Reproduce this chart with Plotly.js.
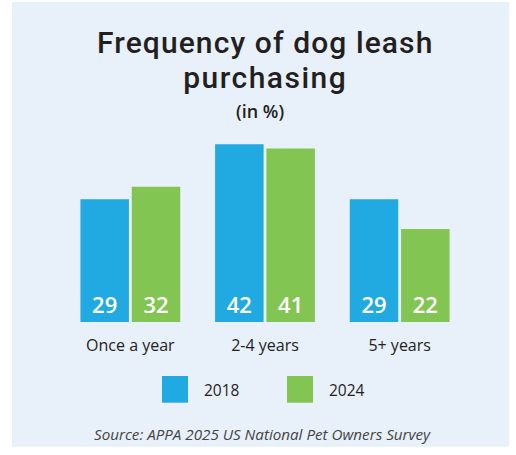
<!DOCTYPE html>
<html>
<head>
<meta charset="utf-8">
<script src="https://cdn.plot.ly/plotly-3.0.1.min.js"></script>
<style>html,body{margin:0;padding:0;background:#fff;}#chart{width:516px;height:455px;}</style>
</head>
<body>
<div id="chart"></div>
<script>
var categories = ['Once a year', '2-4 years', '5+ years'];
var seriesNames = ['2018', '2024'];
var values2018 = [29, 42, 29];
var values2024 = [32, 41, 22];
var seriesColors = ['#21A9E1', '#82C552'];
var titleLine1 = 'Frequency of dog leash';
var titleLine2 = 'purchasing';
var subtitle = '(in %)';
var sourceText = 'Source: APPA 2025 US National Pet Owners Survey';

var W = 516, H = 455;
var M = {l: 63, r: 49, t: 140, b: 133};
var PW = W - M.l - M.r, PH = H - M.t - M.b;
function px(X) { return (X - M.l) / PW; }
function py(Y) { return (H - M.b - Y) / PH; }

var seriesValues = [values2018, values2024];
var traces = seriesNames.map(function (name, i) {
  return {
    type: 'bar',
    name: name,
    x: categories,
    y: seriesValues[i],
    text: seriesValues[i].map(String),
    textposition: 'inside',
    insidetextanchor: 'start',
    textangle: 0,
    textfont: {family: 'Open Sans', size: 22, color: '#ffffff', weight: 600},
    marker: {color: seriesColors[i], line: {width: 0}},
    hoverinfo: 'none',
    cliponaxis: false
  };
});

var shapes = [{
  type: 'rect', xref: 'paper', yref: 'paper', layer: 'below',
  x0: px(12), x1: px(509), y0: py(446.7), y1: py(2),
  fillcolor: '#E8F0FA', line: {width: 0}
}];
var titleSpan = function (s, ls) { return '<span style="font-size:30px;letter-spacing:' + ls + 'px">' + s + '</span>'; };
var annotations = [
  {text: titleSpan(titleLine1, 1.1) + '<br>' + titleSpan(titleLine2, 1.5), x: px(265), y: py(60), xref: 'paper', yref: 'paper',
   showarrow: false, xanchor: 'center', yanchor: 'middle', align: 'center',
   font: {family: 'Roboto', size: 27.3, color: '#231F20', weight: 500}},
  {text: subtitle, x: px(260), y: py(111), xref: 'paper', yref: 'paper', showarrow: false, xanchor: 'center', yanchor: 'middle',
   font: {family: 'Open Sans', size: 18, color: '#231F20', weight: 600}},
  {text: '<i>' + sourceText + '</i>', x: px(262), y: py(434), xref: 'paper', yref: 'paper', showarrow: false, xanchor: 'center', yanchor: 'middle',
   font: {family: 'Open Sans', size: 15.2, color: '#444444'}}
];
var legendX = [162, 287];
seriesNames.forEach(function (name, i) {
  shapes.push({type: 'rect', xref: 'paper', yref: 'paper', layer: 'above',
    x0: px(legendX[i]), x1: px(legendX[i] + 26), y0: py(402.7), y1: py(376),
    fillcolor: seriesColors[i], line: {width: 0}});
  annotations.push({text: name, x: px(legendX[i] + 40), y: py(389.5), xref: 'paper', yref: 'paper', showarrow: false,
    xanchor: 'left', yanchor: 'middle', font: {family: 'Open Sans', size: 15.5, color: '#231F20'}});
});

var layout = {
  width: W, height: H,
  margin: M,
  paper_bgcolor: '#ffffff',
  plot_bgcolor: 'rgba(0,0,0,0)',
  showlegend: false,
  barmode: 'group',
  bargap: 0.238,
  bargroupgap: 0.055,
  xaxis: {type: 'category', showgrid: false, zeroline: false, showline: false, ticks: '', ticklabelstandoff: 12,
    tickfont: {family: 'Open Sans', size: 16, color: '#231F20'}, fixedrange: true},
  yaxis: {range: [0, PH / 4.23], visible: false, showgrid: false, zeroline: false, fixedrange: true},
  shapes: shapes,
  annotations: annotations
};
Plotly.newPlot('chart', traces, layout, {displayModeBar: false, staticPlot: true});
</script>
</body>
</html>
